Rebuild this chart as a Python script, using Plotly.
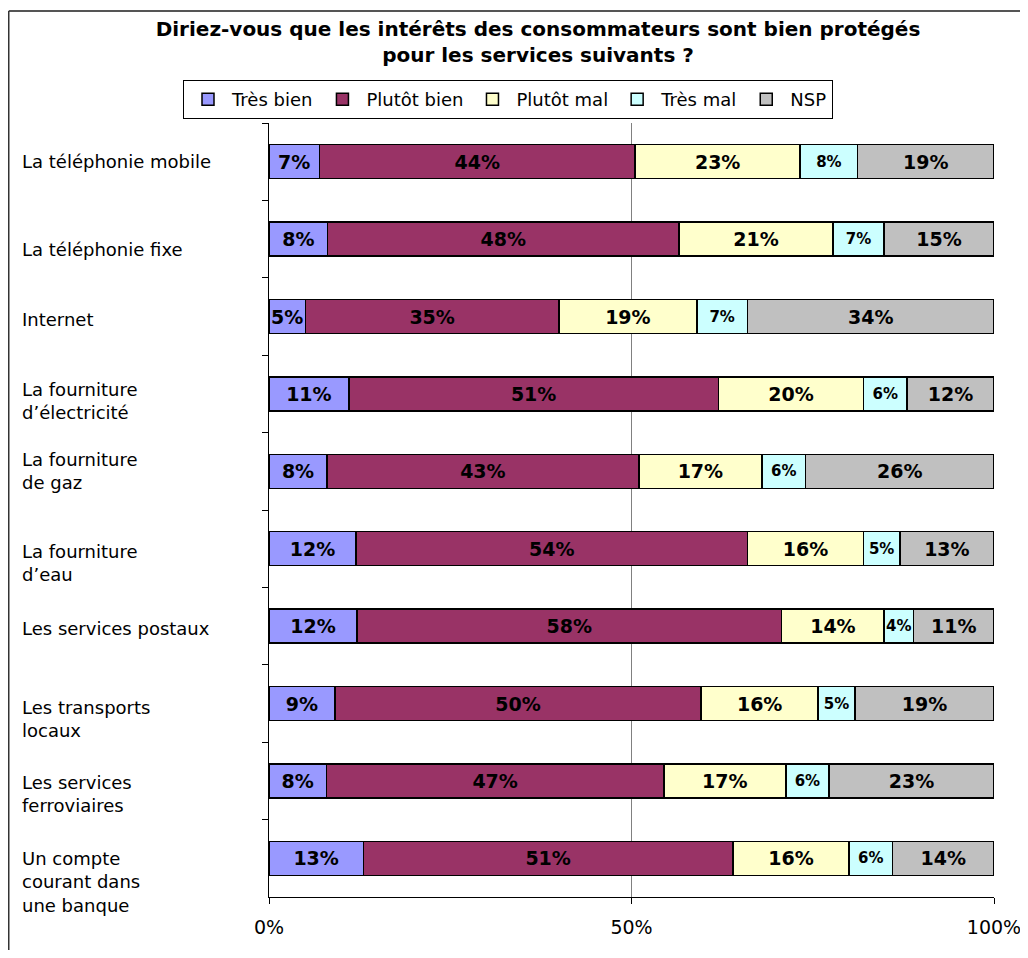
import plotly.graph_objects as go

categories = [
    "La téléphonie mobile",
    "La téléphonie fixe",
    "Internet",
    "La fourniture<br>d’électricité",
    "La fourniture<br>de gaz",
    "La fourniture<br>d’eau",
    "Les services postaux",
    "Les transports<br>locaux",
    "Les services<br>ferroviaires",
    "Un compte<br>courant dans<br>une banque",
]
series_names = ["Très bien", "Plutôt bien", "Plutôt mal", "Très mal", "NSP"]
tres_bien = [7, 8, 5, 11, 8, 12, 12, 9, 8, 13]
plutot_bien = [44, 48, 35, 51, 43, 54, 58, 50, 47, 51]
plutot_mal = [23, 21, 19, 20, 17, 16, 14, 16, 17, 16]
tres_mal = [8, 7, 7, 6, 6, 5, 4, 5, 6, 6]
nsp = [19, 15, 34, 12, 26, 13, 11, 19, 23, 14]
x_tick_vals = [0, 50, 100]
x_tick_text = ["0%", "50%", "100%"]

colors = ["#9999FF", "#993366", "#FFFFCC", "#CCFFFF", "#C0C0C0"]
text_sizes = [19, 19, 19, 15, 19]
series = [tres_bien, plutot_bien, plutot_mal, tres_mal, nsp]

# page has an 8px body margin; figure coordinates = page coordinates - 8
W, H = 1020, 942
L, R, T, B = 261, 34, 115, 53
PW = W - L - R
PH = H - T - B

fig = go.Figure()
for name, vals, col, ts in zip(series_names, series, colors, text_sizes):
    fig.add_trace(go.Bar(
        y=categories, x=vals, name=name, orientation="h",
        marker=dict(color=col, line=dict(color="black", width=1.5)),
        text=[f"{v}%" for v in vals],
        textposition="inside", insidetextanchor="middle", textangle=0,
        textfont=dict(family="DejaVu Sans", size=ts, color="black", weight="bold"),
        constraintext="none",
        hoverinfo="skip",
    ))

# left-aligned category labels
label_shift = [0, -10, -3, -7, 0, -14, -2, -15, -13, -24]
for cat, ys in zip(categories, label_shift):
    fig.add_annotation(
        x=(12 - L) / PW, xref="paper", y=cat, yref="y",
        text=cat, showarrow=False, xanchor="left", yanchor="middle",
        align="left", yshift=ys,
        font=dict(family="DejaVu Sans", size=18, color="black"),
    )

# outer border lines
top_y = (H - B - 3) / PH
fig.add_shape(type="line", xref="paper", yref="paper",
              x0=(0.75 - L) / PW, x1=(W + 5 - L) / PW,
              y0=top_y, y1=top_y,
              line=dict(color="#555555", width=2))
fig.add_shape(type="line", xref="paper", yref="paper",
              x0=(0.75 - L) / PW, x1=(0.75 - L) / PW,
              y0=top_y, y1=-B / PH - 0.05,
              line=dict(color="#333333", width=1.5))

fig.update_layout(
    width=W, height=H,
    margin=dict(l=L, r=R, t=T, b=B),
    barmode="stack", barnorm="percent", bargap=0.56,
    paper_bgcolor="white", plot_bgcolor="white",
    title=dict(
        text="<b>Diriez-vous que les intérêts des consommateurs sont bien protégés<br>pour les services suivants ?</b>",
        x=530 / W, xanchor="center", y=1 - 28 / H, yanchor="top",
        font=dict(family="DejaVu Sans", size=20, color="black"),
    ),
    legend=dict(
        orientation="h", x=(500 - L) / PW, xanchor="center",
        y=1 + (T - 72) / PH, yanchor="top",
        bordercolor="black", borderwidth=1,
        font=dict(family="DejaVu Sans", size=18, color="black"),
        traceorder="normal", itemwidth=38,
        tracegroupgap=0,
    ),
    showlegend=True,
    xaxis=dict(
        range=[0, 100], tickvals=x_tick_vals, ticktext=x_tick_text,
        showgrid=True, gridcolor="#808080", gridwidth=1,
        showline=True, linecolor="black", linewidth=1,
        ticks="outside", ticklen=6, tickcolor="black",
        ticklabelstandoff=7,
        tickfont=dict(family="DejaVu Sans", size=19, color="black"),
        zeroline=False, fixedrange=True, automargin=False,
    ),
    yaxis=dict(
        autorange="reversed", showticklabels=False,
        showline=True, linecolor="black", linewidth=1,
        ticks="outside", tickson="boundaries", ticklen=6, tickcolor="black",
        showgrid=False, zeroline=False, automargin=False,
    ),
)

fig.write_html("out.html")
